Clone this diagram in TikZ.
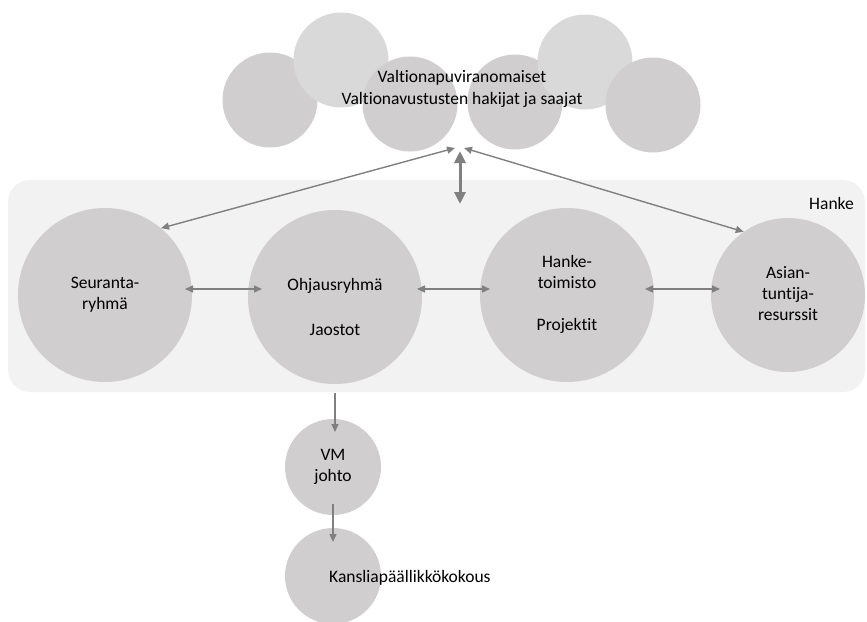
\documentclass[tikz,border=0pt]{standalone}
\usepackage{fontspec}
\setmainfont{Carlito}[Ligatures=NoCommon]
\usetikzlibrary{arrows.meta}
\definecolor{cdark}{HTML}{D0CECE}
\definecolor{clight}{HTML}{D9D9D9}
\definecolor{bandc}{HTML}{F2F2F2}
\definecolor{arr}{HTML}{808080}
\begin{document}
\begin{tikzpicture}[x=1pt,y=-1pt,
  txt/.style={font=\fontsize{17.5}{21}\selectfont, align=center, inner sep=0pt},
  circ/.style={circle, fill=cdark, draw=none, inner sep=0pt, align=center, font=\fontsize{17.5}{21}\selectfont},
  cl/.style={circle, inner sep=0pt, minimum size=95pt, draw=none},
  tipa/.tip={Triangle[length=8pt,width=7pt]},
  tipb/.tip={Triangle[length=12pt,width=11pt]},
  both/.style={draw=arr, line width=1.4pt, tipa-tipa},
  oneway/.style={draw=arr, line width=1.4pt, -tipa},
  heavy/.style={draw=arr, line width=3pt, tipb-tipb}
]
\clip (0,0) rectangle (867,621);
% cloud
\node[cl, fill=cdark]  (c1) at (270,100) {};
\node[cl, fill=clight] (c2) at (341,60) {};
\node[cl, fill=cdark]  (c3) at (410,104) {};
\node[cl, fill=cdark]  (c4) at (515,102) {};
\node[cl, fill=clight] (c5) at (585,62) {};
\node[cl, fill=cdark]  (c6) at (653,105) {};
\node[txt, font=\fontsize{17.5}{22}\selectfont] (ctext) at (462,89) {\strut Valtionapuviranomaiset\\\strut Valtionavustusten hakijat ja saajat};
% band
\node[fill=bandc, draw=none, rounded corners=22pt, minimum width=857pt, minimum height=212pt, inner sep=0pt] (band) at (436.5,286) {};
\node[txt, anchor=east] (hl) at (854,203) {Hanke};
% circles
\node[circ, minimum size=174pt] (s) at (105,295) {\strut Seuranta-\\\strut ryhmä};
\node[circ, minimum size=174pt, font=\fontsize{17.5}{22.5}\selectfont] (o) at (335,297) {\strut\\\strut Ohjausryhmä\\\strut\\\strut Jaostot};
\node[circ, minimum size=174pt] (h) at (567,295) {\strut Hanke-\\\strut toimisto\\\strut\\\strut Projektit};
\node[circ, minimum size=154pt] (a) at (788,295) {\strut Asian-\\\strut tuntija-\\\strut resurssit};
\node[circ, minimum size=96pt] (vm) at (333,467) {\strut VM\\\strut johto};
\node[circ, minimum size=96pt] (k) at (333,576) {};
\node[txt, anchor=west] (kt) at (329,578) {Kansliapäällikkökokous};
% connector ends near the cloud
\coordinate (vt) at (460,151);
\coordinate (vb) at (460,204);
\coordinate (tl) at (455,148);
\coordinate (tr) at (464,148);
% connectors
\draw[heavy] (vt) -- (vb);
\draw[both] (tl) -- (s.50);
\draw[both] (tr) -- (a.125);
\draw[both] ([shift={(80,-6)}]s.center) -- ([shift={(-73,-8)}]o.center);
\draw[both] ([shift={(82,-8)}]o.center) -- ([shift={(-77,-6)}]h.center);
\draw[both] ([shift={(78,-6)}]h.center) -- ([shift={(-68,-6)}]a.center);
\draw[oneway] ([shift={(0,96)}]o.center) -- ([shift={(2,-35)}]vm.center);
\draw[oneway] ([shift={(0,37)}]vm.center) -- ([shift={(0,-34)}]k.center);
\end{tikzpicture}
\end{document}
